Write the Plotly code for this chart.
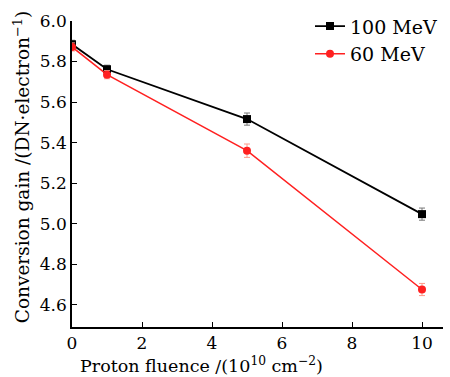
import plotly.graph_objects as go

fluence = [0, 1, 5, 10]
gain_100 = [5.885, 5.762, 5.516, 5.047]
err_100 = [0.02, 0.02, 0.03, 0.03]
gain_60 = [5.872, 5.735, 5.36, 4.675]
err_60 = [0.02, 0.02, 0.033, 0.03]

x_title = "Proton fluence /(10<sup>10</sup> cm<sup>\u22122</sup>)"
y_title = "Conversion gain /(DN\u00b7electron<sup>\u22121</sup>)"

font_family = "DejaVu Serif"

fig = go.Figure()
fig.add_trace(go.Scatter(
    x=fluence, y=gain_100, name="100 MeV", mode="lines+markers",
    line=dict(color="black", width=1.8),
    marker=dict(symbol="square", size=8, color="black"),
    error_y=dict(type="data", array=err_100, color="#777777", thickness=1, width=3),
))
fig.add_trace(go.Scatter(
    x=fluence, y=gain_60, name="60 MeV", mode="lines+markers",
    line=dict(color="#ff2020", width=1.5),
    marker=dict(symbol="circle", size=8, color="#ff2020"),
    error_y=dict(type="data", array=err_60, color="#ff9a8a", thickness=1, width=3),
))

fig.add_annotation(text=x_title, xref="paper", yref="paper", x=0.348, y=-0.123,
                   xanchor="center", yanchor="middle", showarrow=False,
                   font=dict(size=17.5))
fig.add_annotation(text=y_title, xref="paper", yref="paper", x=-0.135, y=0.525,
                   xanchor="center", yanchor="middle", showarrow=False, textangle=-90,
                   font=dict(size=18.5))

fig.update_layout(
    width=450, height=377,
    margin=dict(l=72, r=7, t=17, b=50),
    paper_bgcolor="white", plot_bgcolor="white",
    font=dict(family=font_family, size=17, color="black"),
    showlegend=True,
    legend=dict(x=1.0, y=1.045, xanchor="right", yanchor="top",
                bgcolor="rgba(0,0,0,0)", font=dict(size=19),
                tracegroupgap=0, itemwidth=30),
    xaxis=dict(
        automargin=False,
        range=[0, 10.6], tickvals=[0, 2, 4, 6, 8, 10],
        ticks="inside", ticklen=5, tickwidth=1.2, tickcolor="black",
        showline=True, linecolor="black", linewidth=1.5,
        showgrid=False, zeroline=False, tickfont=dict(size=17),
    ),
    yaxis=dict(
        automargin=False,
        range=[4.49, 6.0], tickvals=[4.6, 4.8, 5.0, 5.2, 5.4, 5.6, 5.8, 6.0],
        ticktext=["4.6", "4.8", "5.0", "5.2", "5.4", "5.6", "5.8", "6.0"],
        ticks="inside", ticklen=5, tickwidth=1.2, tickcolor="black",
        showline=True, linecolor="black", linewidth=1.5,
        showgrid=False, zeroline=False, tickfont=dict(size=17),
    ),
)

fig.write_html("out.html", config={"displayModeBar": False},
               post_script="document.body.style.margin='0';")
